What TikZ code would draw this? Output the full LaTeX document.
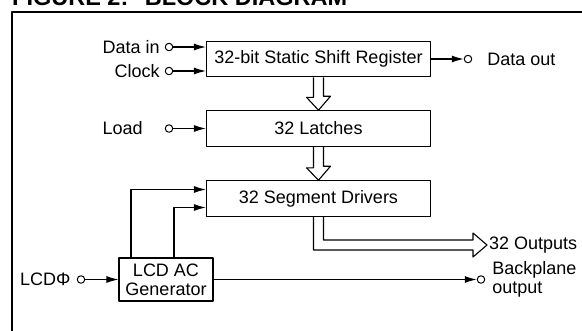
\documentclass[tikz,border=0pt]{standalone}
\usepackage{fontspec}
\setmainfont{Liberation Sans}
\usetikzlibrary{arrows.meta,calc,positioning}
\begin{document}
\begin{tikzpicture}[x=1pt,y=-1pt,line join=round,font=\fontsize{18}{19}\selectfont,
	blk/.style={draw,line width=1.1pt,minimum width=224pt,minimum height=35.5pt,inner sep=0pt},
	pin/.style={draw,circle,line width=1pt,minimum size=7.5pt,inner sep=0pt},
	txt/.style={inner sep=1pt},
	sig/.style={line width=1.1pt,-{Latex[length=12pt,width=7pt]}},
	bus/.style={line width=1.1pt}]
	\useasboundingbox (0,0) rectangle (582,330);
	\clip (0,0) rectangle (582,330);
	% title and frame, cut by the page
	\node[anchor=base west,inner sep=0pt] (title) at (12,5) {\fontsize{23.5}{25}\selectfont\bfseries FIGURE 2:\hspace{0.7em}BLOCK DIAGRAM};
	\draw[line width=1.3pt] (12,340)--(12,12)--(590,12);
	% blocks
	\node[blk] (sr) at (318.5,59) {32-bit Static Shift Register};
	\node[blk] (lat) at (318.5,128.5) {32 Latches};
	\node[blk] (seg) at (318.5,198.5) {32 Segment Drivers};
	\node[blk,minimum width=94pt,minimum height=43pt,align=center] (gen) at (166,279.5) {LCD AC\\Generator};
	% pins
	\node[pin] (din) at (169,47) {};
	\node[pin] (clk) at (169,71) {};
	\node[pin] (load) at (169,128.5) {};
	\node[pin] (lcd) at (81,279.5) {};
	\node[pin] (dout) at (468,59) {};
	\node[pin] (bp) at (481,279.5) {};
	\node[txt,left=4pt of din] (dinl) {Data in};
	\node[txt,left=4pt of clk] (clkl) {Clock};
	\node[txt,left=21pt of load] (loadl) {Load};
	\node[txt,left=5pt of lcd] (lcdl) {LCDΦ};
	\node[txt,right=14pt of dout] (doutl) {Data out};
	\node[txt,right=6pt of bp,align=left] (bpl) {Backplane\\output};
	\coordinate (otip) at (487,245);
	\node[txt,right=1pt of otip] (outl) {32 Outputs};
	% signals
	\draw[sig] (din.east)--(din.east-|sr.west);
	\draw[sig] (clk.east)--(clk.east-|sr.west);
	\draw[sig] (load.east)--(load.east-|lat.west);
	\draw[sig] (sr.east)--(dout.west);
	\draw[sig] (lcd.east)--(gen.west);
	\draw[sig] (gen.east)--(bp.west);
	\draw[sig] ([xshift=-35pt]gen.north) |- ($(seg.west)+(0,-9)$);
	\draw[sig] ([xshift=8pt]gen.north) |- ($(seg.west)+(0,9)$);
	% hollow bus arrows
	\draw[bus] ([xshift=-5pt]sr.south)--++(0,20)--++(-7,0)--(lat.north)--++(12,-14)--++(-7,0)--([xshift=5pt]sr.south);
	\draw[bus] ([xshift=-5pt]lat.south)--++(0,21)--++(-7,0)--(seg.north)--++(12,-14)--++(-7,0)--([xshift=5pt]lat.south);
	\draw[bus] ([xshift=-5pt]seg.south) |- ($(otip)+(-14,5)$)--++(0,7)--(otip)--++(-14,-12)--++(0,7) -| ([xshift=5pt]seg.south);
\end{tikzpicture}
\end{document}
